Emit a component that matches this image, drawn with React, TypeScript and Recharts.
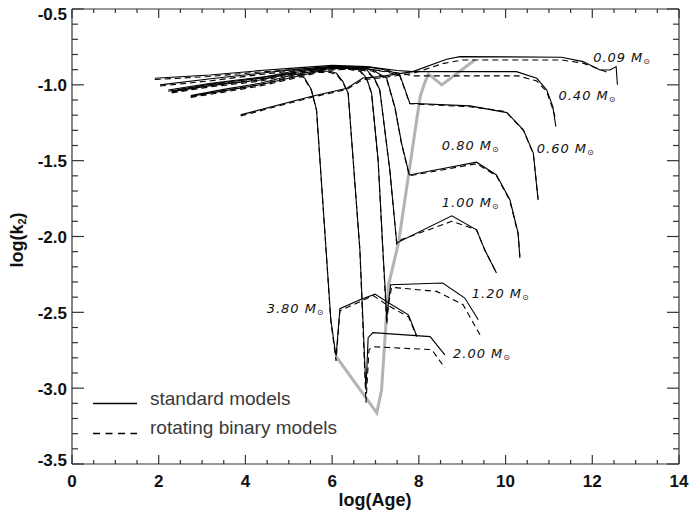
import { ComposedChart, Line, XAxis, YAxis, ReferenceDot } from 'recharts';

type Pt = [number, number];

// x ticks (log age) and y ticks (log k2); labelled only on the major steps
const xTicks = [0, 0.5, 1, 1.5, 2, 2.5, 3, 3.5, 4, 4.5, 5, 5.5, 6, 6.5, 7, 7.5, 8, 8.5, 9, 9.5, 10, 10.5, 11, 11.5, 12, 12.5, 13, 13.5, 14];
const yTicks = [-3.5, -3.4, -3.3, -3.2, -3.1, -3.0, -2.9, -2.8, -2.7, -2.6, -2.5, -2.4, -2.3, -2.2, -2.1, -2.0, -1.9, -1.8, -1.7, -1.6, -1.5, -1.4, -1.3, -1.2, -1.1, -1.0, -0.9, -0.8, -0.7, -0.6, -0.5];

// standard models (solid)
const m009Std: Pt[] = [[3.89, -1.198], [5.49, -1.078], [6.34, -1.022], [6.71, -0.955], [7.1, -0.946], [7.86, -0.913], [8.64, -0.831], [8.95, -0.814], [11.29, -0.818], [11.79, -0.847], [12.18, -0.902], [12.41, -0.902], [12.55, -0.88], [12.58, -1.0]];
const m040Std: Pt[] = [[1.91, -0.957], [3.18, -0.935], [4.34, -0.906], [5.1, -0.89], [6.0, -0.872], [6.8, -0.88], [7.5, -0.905], [7.86, -0.913], [10.25, -0.913], [10.72, -0.957], [10.95, -1.034], [11.09, -1.144], [11.16, -1.275]];
const m060Std: Pt[] = [[2.03, -1.0], [3.2, -0.96], [4.34, -0.924], [5.1, -0.9], [6.0, -0.878], [6.9, -0.885], [7.3, -0.905], [7.56, -0.935], [7.68, -1.03], [7.79, -1.121], [9.18, -1.139], [10.03, -1.183], [10.41, -1.297], [10.64, -1.45], [10.75, -1.76]];
const m080Std: Pt[] = [[2.3, -1.04], [3.2, -0.995], [4.34, -0.955], [5.1, -0.91], [6.0, -0.88], [6.7, -0.885], [6.94, -0.902], [7.26, -0.957], [7.45, -1.15], [7.6, -1.383], [7.78, -1.594], [9.33, -1.51], [9.79, -1.594], [10.1, -1.758], [10.29, -1.978], [10.33, -2.142]];
const m100Std: Pt[] = [[2.3, -1.045], [3.2, -1.005], [4.34, -0.968], [5.1, -0.92], [6.0, -0.885], [6.6, -0.89], [6.8, -0.902], [6.98, -0.96], [7.1, -1.034], [7.33, -1.56], [7.49, -2.043], [8.76, -1.864], [9.33, -1.956], [9.52, -2.088], [9.79, -2.24]];
const m120Std: Pt[] = [[2.74, -1.071], [3.5, -1.03], [4.34, -0.99], [5.1, -0.935], [5.9, -0.895], [6.4, -0.89], [6.64, -0.902], [6.8, -0.96], [6.91, -1.055], [7.06, -1.495], [7.17, -2.088], [7.26, -2.53], [7.35, -2.318], [8.55, -2.307], [9.06, -2.406], [9.37, -2.549]];
const m200Std: Pt[] = [[2.74, -1.075], [3.5, -1.04], [4.34, -1.0], [5.1, -0.95], [5.7, -0.91], [5.95, -0.91], [6.1, -0.924], [6.25, -0.98], [6.37, -1.055], [6.64, -2.088], [6.78, -3.01], [6.83, -2.667], [6.94, -2.634], [8.26, -2.66], [8.6, -2.78]];
const m380Std: Pt[] = [[2.22, -1.034], [3.2, -0.99], [4.34, -0.95], [5.0, -0.925], [5.25, -0.93], [5.37, -0.957], [5.52, -1.03], [5.64, -1.165], [5.86, -2.088], [5.97, -2.55], [6.09, -2.79], [6.18, -2.476], [6.64, -2.417], [6.99, -2.38], [7.26, -2.43], [7.76, -2.516], [7.95, -2.654]];

// rotating binary models (dashed)
const m009Rot: Pt[] = [[3.89, -1.205], [5.49, -1.085], [6.34, -1.03], [6.71, -0.965], [7.1, -0.955], [7.86, -0.925], [8.55, -0.86], [9.0, -0.836], [11.29, -0.836], [11.79, -0.857], [12.37, -0.92]];
const m040Rot: Pt[] = [[1.91, -0.965], [3.18, -0.945], [4.34, -0.915], [5.1, -0.9], [6.0, -0.885], [6.8, -0.895], [7.5, -0.92], [7.86, -0.941], [10.3, -0.941], [10.49, -0.957], [10.72, -0.975], [10.95, -1.045], [11.09, -1.16], [11.14, -1.21]];
const m060Rot: Pt[] = [[2.03, -1.008], [3.2, -0.973], [4.34, -0.932], [5.1, -0.908], [6.0, -0.888], [6.9, -0.898], [7.3, -0.918], [7.56, -0.94], [7.68, -1.035], [7.79, -1.125], [9.18, -1.145], [10.0, -1.175], [10.41, -1.3], [10.64, -1.455], [10.75, -1.75]];
const m080Rot: Pt[] = [[2.3, -1.048], [3.2, -1.003], [4.34, -0.963], [5.1, -0.918], [6.0, -0.89], [6.7, -0.895], [6.94, -0.91], [7.26, -0.965], [7.45, -1.155], [7.6, -1.39], [7.78, -1.6], [9.33, -1.52], [9.79, -1.6], [10.1, -1.765], [10.29, -1.985], [10.33, -2.13]];
const m100Rot: Pt[] = [[2.3, -1.053], [3.2, -1.013], [4.34, -0.976], [5.1, -0.928], [6.0, -0.895], [6.6, -0.9], [6.8, -0.91], [6.98, -0.965], [7.1, -1.04], [7.33, -1.565], [7.49, -2.05], [7.6, -2.02], [8.76, -1.9], [9.33, -1.955], [9.52, -2.09], [9.79, -2.24]];
const m120Rot: Pt[] = [[2.74, -1.079], [3.5, -1.038], [4.34, -0.998], [5.1, -0.943], [5.9, -0.903], [6.4, -0.898], [6.64, -0.91], [6.8, -0.965], [6.91, -1.06], [7.06, -1.5], [7.17, -2.09], [7.26, -2.58], [7.3, -2.45], [7.37, -2.335], [8.41, -2.362], [9.02, -2.45], [9.41, -2.648]];
const m200Rot: Pt[] = [[2.74, -1.083], [3.5, -1.048], [4.34, -1.008], [5.1, -0.958], [5.7, -0.918], [5.95, -0.918], [6.1, -0.932], [6.25, -0.985], [6.37, -1.06], [6.64, -2.09], [6.78, -3.096], [6.85, -2.746], [6.94, -2.727], [8.3, -2.746], [8.6, -2.867]];
const m380Rot: Pt[] = [[2.22, -1.042], [3.2, -0.998], [4.34, -0.958], [5.0, -0.933], [5.25, -0.938], [5.37, -0.965], [5.52, -1.035], [5.64, -1.17], [5.86, -2.09], [5.97, -2.56], [6.09, -2.82], [6.18, -2.49], [6.64, -2.43], [6.95, -2.39], [7.26, -2.45], [7.76, -2.53], [7.95, -2.66]];

// grey locus through the track minima
const minimaLocus: Pt[] = [[6.09, -2.79], [7.03, -3.163], [7.14, -3.01], [7.3, -2.32], [7.53, -2.043], [8.03, -1.078], [8.13, -0.99], [8.22, -0.928], [8.53, -1.0], [9.29, -0.836]];

const massNames = ['0.09', '0.40', '0.60', '0.80', '1.00', '1.20', '2.00', '3.80'];
const standardTracks = [m009Std, m040Std, m060Std, m080Std, m100Std, m120Std, m200Std, m380Std];
const rotatingTracks = [m009Rot, m040Rot, m060Rot, m080Rot, m100Rot, m120Rot, m200Rot, m380Rot];
// where each mass label sits (data coords, start of text baseline)
const labelX = [12.02, 11.22, 10.72, 8.53, 8.53, 9.22, 8.79, 4.49];
const labelY = [-0.849, -1.099, -1.449, -1.429, -1.804, -2.404, -2.799, -2.503];

const legendItems = [
  { name: 'standard models', dash: undefined as string | undefined },
  { name: 'rotating binary models', dash: '7 5.5' },
];

const W = 690;
const H = 515;
const LEFT = 72;
const RIGHT = 679;
const TOP = 9;
const BOTTOM = 464;
const AXIS = '#333';
const TICK_FONT = "'Liberation Sans', Arial, Helvetica, sans-serif";

const toRows = (pts: Pt[]) => pts.map(([x, y]) => ({ x, y }));
const isHalf = (v: number) => Math.abs(v * 2 - Math.round(v * 2)) < 1e-6;
const isEven = (v: number) => Math.abs(v / 2 - Math.round(v / 2)) < 1e-6;

const BottomTick = (p: any) => {
  const v = p.payload.value;
  const major = isEven(v);
  return (
    <g>
      <line x1={p.x} x2={p.x} y1={BOTTOM} y2={BOTTOM - (major ? 9 : 4)} stroke={AXIS} strokeWidth={1.2} />
      {major && (
        <text x={p.x} y={BOTTOM + 23} textAnchor="middle" fontFamily={TICK_FONT} fontWeight="bold" fontSize={17} fill="#111">
          {v}
        </text>
      )}
    </g>
  );
};

const TopTick = (p: any) => {
  const major = isEven(p.payload.value);
  return <line x1={p.x} x2={p.x} y1={TOP} y2={TOP + (major ? 9 : 4)} stroke={AXIS} strokeWidth={1.2} />;
};

const LeftTick = (p: any) => {
  const v = p.payload.value;
  const major = isHalf(v);
  let shift = 1;
  if (v > -0.55) shift = 5;
  if (v < -3.45) shift = -4;
  return (
    <g>
      <line x1={LEFT} x2={LEFT + (major ? 12 : 6)} y1={p.y} y2={p.y} stroke={AXIS} strokeWidth={1.2} />
      {major && (
        <text x={LEFT - 5} y={p.y + shift} textAnchor="end" dominantBaseline="central" fontFamily={TICK_FONT} fontWeight="bold" fontSize={17} fill="#111">
          {v.toFixed(1)}
        </text>
      )}
    </g>
  );
};

const RightTick = (p: any) => {
  const major = isHalf(p.payload.value);
  return <line x1={RIGHT} x2={RIGHT - (major ? 12 : 6)} y1={p.y} y2={p.y} stroke={AXIS} strokeWidth={1.2} />;
};

const MassLabel = (p: any) => (
  <text x={p.cx} y={p.cy} fontFamily="'DejaVu Sans', sans-serif" fontStyle="italic" fontSize={13} letterSpacing={1} fill="#111">
    {p.name}
    <tspan dx={5}>M</tspan>
    <tspan fontSize={8} dy={2} fontStyle="normal">⊙</tspan>
  </text>
);

export default function App() {
  return (
    <div style={{ position: 'absolute', left: 0, top: 0, width: W, height: H, background: '#fff' }}>
      <ComposedChart width={W} height={H} margin={{ top: 0, right: 0, bottom: 0, left: 0 }}>
        <XAxis
          xAxisId="bottom"
          type="number"
          dataKey="x"
          domain={[0, 14]}
          ticks={xTicks}
          interval={0}
          height={H - BOTTOM}
          tickLine={false}
          axisLine={{ stroke: AXIS, strokeWidth: 1.2 }}
          tick={(p: any) => <BottomTick {...p} />}
        />
        <XAxis
          xAxisId="top"
          orientation="top"
          type="number"
          dataKey="x"
          domain={[0, 14]}
          ticks={xTicks}
          interval={0}
          height={TOP}
          tickLine={false}
          axisLine={{ stroke: AXIS, strokeWidth: 1.2 }}
          tick={(p: any) => <TopTick {...p} />}
        />
        <YAxis
          yAxisId="left"
          type="number"
          domain={[-3.5, -0.5]}
          ticks={yTicks}
          interval={0}
          width={LEFT}
          tickLine={false}
          axisLine={{ stroke: AXIS, strokeWidth: 1.2 }}
          tick={(p: any) => <LeftTick {...p} />}
        />
        <YAxis
          yAxisId="right"
          orientation="right"
          type="number"
          domain={[-3.5, -0.5]}
          ticks={yTicks}
          interval={0}
          width={W - RIGHT}
          tickLine={false}
          axisLine={{ stroke: AXIS, strokeWidth: 1.2 }}
          tick={(p: any) => <RightTick {...p} />}
        />

        <Line
          xAxisId="bottom"
          yAxisId="left"
          data={toRows(minimaLocus)}
          dataKey="y"
          type="linear"
          stroke="#b3b3b3"
          strokeWidth={3}
          dot={false}
          activeDot={false}
          isAnimationActive={false}
        />
        {standardTracks.map((trk, i) => (
          <Line
            key={'std' + massNames[i]}
            xAxisId="bottom"
            yAxisId="left"
            data={toRows(trk)}
            dataKey="y"
            type="linear"
            stroke="#000"
            strokeWidth={1.1}
            dot={false}
            activeDot={false}
            isAnimationActive={false}
          />
        ))}
        {rotatingTracks.map((trk, i) => (
          <Line
            key={'rot' + massNames[i]}
            xAxisId="top"
            yAxisId="right"
            data={toRows(trk)}
            dataKey="y"
            type="linear"
            stroke="#000"
            strokeWidth={1.1}
            strokeDasharray="6 4"
            dot={false}
            activeDot={false}
            isAnimationActive={false}
          />
        ))}
        {massNames.map((name, i) => (
          <ReferenceDot
            key={'lbl' + name}
            xAxisId="bottom"
            yAxisId="left"
            x={labelX[i]}
            y={labelY[i]}
            r={1}
            ifOverflow="visible"
            shape={(p: any) => <MassLabel {...p} name={name} />}
          />
        ))}
      </ComposedChart>

      <svg width={W} height={H} style={{ position: 'absolute', left: 0, top: 0, pointerEvents: 'none' }}>
        {legendItems.map((item, i) => (
          <g key={item.name}>
            <line x1={93} x2={137} y1={403.5 + i * 30} y2={403.5 + i * 30} stroke="#000" strokeWidth={1.3} strokeDasharray={item.dash} />
            <text x={150} y={405 + i * 29} fontFamily={TICK_FONT} fontSize={19} fill="#3a3a3a">
              {item.name}
            </text>
          </g>
        ))}
        <text x={375} y={506} textAnchor="middle" fontFamily={TICK_FONT} fontWeight="bold" fontSize={18} fill="#111">
          log(Age)
        </text>
        <text transform="translate(23,240) rotate(-90)" textAnchor="middle" fontFamily={TICK_FONT} fontWeight="bold" fontSize={18} fill="#111">
          log(k<tspan fontSize={11} dy={3}>2</tspan>
          <tspan dy={-3}>)</tspan>
        </text>
      </svg>
    </div>
  );
}
